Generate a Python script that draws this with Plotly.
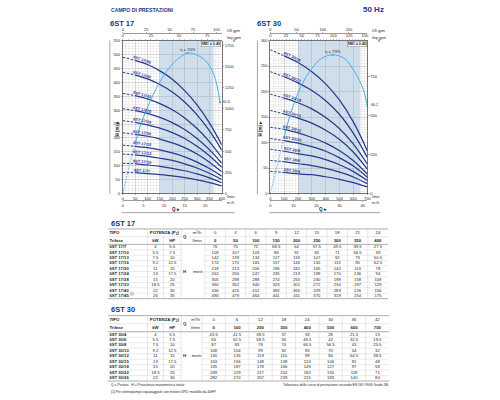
import math
import numpy as np
import plotly.graph_objects as go

# ---------------- data ----------------
Q17_M3H = [0, 3, 6, 9, 12, 15, 18, 21, 24]
Q17_LMIN = [0, 50, 100, 150, 200, 250, 300, 350, 400]
MODELS17 = ["6ST 17/7", "6ST 17/10", "6ST 17/13", "6ST 17/16", "6ST 17/20",
            "6ST 17/24", "6ST 17/28", "6ST 17/33", "6ST 17/40", "6ST 17/45"]
KW17 = [4, 5.5, 7.5, 9.2, 11, 13, 15, 18.5, 22, 26]
HP17 = [5.5, 7.5, 10, 12.5, 15, 17.5, 20, 25, 30, 35]
H17_7 = [76, 75, 72, 68.5, 64, 57.5, 49.5, 39.5, 27.5]
H17_10 = [109, 107, 103, 98, 91, 82, 71, 56.5, 39]
H17_13 = [142, 139, 134, 127, 119, 107, 92, 73, 50.5]
H17_16 = [174, 170, 165, 157, 146, 132, 113, 90, 62.5]
H17_20 = [218, 213, 206, 196, 182, 165, 142, 113, 78]
H17_24 = [262, 256, 247, 235, 219, 198, 170, 136, 94]
H17_28 = [305, 298, 288, 274, 255, 230, 198, 158, 109]
H17_33 = [360, 352, 340, 323, 301, 272, 234, 187, 129]
H17_40 = [436, 426, 412, 392, 365, 329, 283, 226, 156]
H17_45 = [490, 479, 464, 441, 411, 370, 319, 254, 175]
H17 = [H17_7, H17_10, H17_13, H17_16, H17_20, H17_24, H17_28, H17_33, H17_40, H17_45]
NOTES17 = {"6ST 17/45": "(1)"}

Q30_M3H = [0, 6, 12, 18, 24, 30, 36, 42]
Q30_LMIN = [0, 100, 200, 300, 400, 500, 600, 700]
MODELS30 = ["6ST 30/4", "6ST 30/6", "6ST 30/8", "6ST 30/10", "6ST 30/12",
            "6ST 30/15", "6ST 30/18", "6ST 30/22", "6ST 30/26"]
KW30 = [4, 5.5, 7.5, 9.2, 11, 13, 15, 18.5, 22]
HP30 = [5.5, 7.5, 10, 12.5, 15, 17.5, 20, 25, 30]
H30_4 = [43.5, 41.5, 38.5, 37, 33, 28, 21.5, 13]
H30_6 = [65, 62.5, 58.5, 55, 49.5, 42, 32.5, 19.5]
H30_8 = [87, 83, 78, 74, 66.5, 56.5, 43, 25.5]
H30_10 = [108, 104, 99, 92, 83, 70, 54, 32]
H30_12 = [130, 126, 119, 110, 99, 84, 64.5, 38.5]
H30_15 = [163, 156, 148, 138, 124, 106, 81, 48]
H30_18 = [195, 187, 178, 166, 149, 127, 97, 58]
H30_22 = [239, 229, 217, 202, 182, 155, 118, 71]
H30_26 = [282, 270, 257, 239, 215, 183, 140, 84]
H30 = [H30_4, H30_6, H30_8, H30_10, H30_12, H30_15, H30_18, H30_22, H30_26]

# efficiency curves (drawn on the head scale)
ETA17_Q = [0, 25, 50, 75, 107, 148, 188, 228, 262, 295, 336, 369, 393]
ETA17_H = [0, 95, 180, 255, 325, 398, 452, 488, 505, 500, 476, 425, 328]
ETA30_Q = [0, 40, 100, 150, 225, 300, 370, 450, 535, 610, 670, 700]
ETA30_H = [0, 45, 110, 160, 212, 245, 265, 272, 265, 238, 205, 173]

# ---------------- style ----------------
FONT = "Liberation Sans Narrow, Liberation Sans, Arial, sans-serif"
NAVY = "#22358c"
CURVE = "#283a8c"
ETA_C = "#45aee6"
BAND_C = "#cde1f3"
AX = "#3a3a3a"
GMAJ = "#b0b0b0"
GMIN = "#d8d8d8"
TXT = "#262626"
W, HT = 500, 400


def fx(x):
    return x / W


def fy(y):
    return 1 - y / HT


def fmt(v):
    return "%g" % v


def lk(a):
    return ("xaxis" if a[0] == "x" else "yaxis") + a[1:]


TF = dict(size=4, color=TXT, family=FONT)
fig = go.Figure()
shapes, annots = [], []
layout = dict(width=W, height=HT, margin=dict(l=0, r=0, t=0, b=0),
              paper_bgcolor="white", plot_bgcolor="white", showlegend=False,
              font=dict(family=FONT, size=4, color=TXT))

CHARTS = [
    dict(ax=("x", "y"), ft="y2", us="x2", imp="x3", m3="x4", L=123, R=223,
         xmax=400, ymax=550, xd=50, xminor=12.5, yd=50, yminor=10, ftd=250,
         usd=25, usminor=5, impd=25, impminor=5, m3d=5, m3minor=1, dash_q=50,
         band=(150, 367), models=MODELS17, H=H17, Q=Q17_LMIN, eta_q=ETA17_Q,
         eta_h=ETA17_H, eta_txt="η = 70%", eta_end="61.6", label_q=78,
         title="6ST 17", vline=110),
    dict(ax=("x5", "y3"), ft="y4", us="x6", imp="x7", m3="x8", L=272, R=370,
         xmax=700, ymax=300, xd=100, xminor=20, yd=50, yminor=5, ftd=250,
         usd=50, usminor=10, impd=25, impminor=5, m3d=10, m3minor=2, dash_q=100,
         band=(200, 650), models=MODELS30, H=H30, Q=Q30_LMIN, eta_q=ETA30_Q,
         eta_h=ETA30_H, eta_txt="η = 73%", eta_end="66.2", label_q=158,
         title="6ST 30", vline=259),
]

T, B = 38, 193
for c in CHARTS:
    L, R = c["L"], c["R"]
    xa, ya = c["ax"]
    ppx = (R - L) / c["xmax"]
    ppy = (B - T) / c["ymax"]
    common = dict(zeroline=False, fixedrange=True, tickfont=TF)
    layout[lk(xa)] = dict(domain=[fx(L), fx(R)], range=[0, c["xmax"]], anchor=ya,
                          tick0=0, dtick=c["xd"], showgrid=True, gridcolor=GMAJ,
                          gridwidth=0.5,
                          minor=dict(tick0=0, dtick=c["xminor"], showgrid=True,
                                     gridcolor=GMIN, gridwidth=0.35),
                          showline=True, linecolor=AX, linewidth=0.7, mirror=True,
                          ticks="outside", ticklen=1.2, tickwidth=0.4, tickcolor=AX,
                          **common)
    layout[lk(ya)] = dict(domain=[fy(B), fy(T)], range=[0, c["ymax"]], anchor=xa,
                          tick0=0, dtick=c["yd"], showgrid=True, gridcolor=GMAJ,
                          gridwidth=0.5,
                          minor=dict(tick0=0, dtick=c["yminor"], showgrid=True,
                                     gridcolor=GMIN, gridwidth=0.35),
                          showline=True, linecolor=AX, linewidth=0.7, mirror=True,
                          ticks="outside", ticklen=1.2, tickwidth=0.4, tickcolor=AX,
                          **common)
    layout[lk(c["ft"])] = dict(overlaying=ya, side="right", anchor=xa,
                               range=[0, c["ymax"] * 3.28084], tick0=0, dtick=c["ftd"],
                               showgrid=False, ticks="outside", ticklen=1.2,
                               tickwidth=0.4, tickcolor=AX, **common)
    layout[lk(c["us"])] = dict(overlaying=xa, anchor="free", position=fy(30.6), side="top",
                               range=[0, c["xmax"] / 3.78541], tick0=0, dtick=c["usd"],
                               showgrid=False, showline=True, linecolor=AX, linewidth=0.5,
                               ticks="outside", ticklen=1.0, tickwidth=0.4, tickcolor=AX,
                               minor=dict(tick0=0, dtick=c["usminor"], ticks="outside",
                                          ticklen=0.7, tickwidth=0.3, tickcolor=AX,
                                          showgrid=False),
                               **common)
    layout[lk(c["imp"])] = dict(overlaying=xa, anchor=ya, side="top",
                                range=[0, c["xmax"] / 4.54609], tick0=0, dtick=c["impd"],
                                showgrid=False, showline=False,
                                ticks="outside", ticklen=1.0, tickwidth=0.4, tickcolor=AX,
                                minor=dict(tick0=0, dtick=c["impminor"], ticks="outside",
                                           ticklen=0.7, tickwidth=0.3, tickcolor=AX,
                                           showgrid=False),
                                **common)
    layout[lk(c["m3"])] = dict(overlaying=xa, anchor="free", position=fy(199.5),
                               side="bottom", range=[0, c["xmax"] * 0.06], tick0=0,
                               dtick=c["m3d"], showgrid=False, showline=True,
                               linecolor=AX, linewidth=0.5, ticks="outside", ticklen=1.2,
                               tickwidth=0.4, tickcolor=AX,
                               minor=dict(tick0=0, dtick=c["m3minor"], ticks="outside",
                                          ticklen=0.8, tickwidth=0.3, tickcolor=AX,
                                          showgrid=False),
                               **common)
    # helper traces so that every overlaying axis is drawn
    for ax2, ay2 in [(c["us"], ya), (c["imp"], ya), (c["m3"], ya), (xa, c["ft"])]:
        fig.add_trace(go.Scatter(x=[None], y=[None], xaxis=ax2, yaxis=ay2,
                                 mode="lines", hoverinfo="skip"))

    # recommended range band
    shapes.append(dict(type="rect", xref=xa, yref=ya, x0=c["band"][0], x1=c["band"][1],
                       y0=0, y1=c["ymax"], fillcolor=BAND_C, line=dict(width=0),
                       layer="below"))

    # pump curves
    q = np.array(c["Q"], float)
    for name, h in zip(c["models"], c["H"]):
        h = np.array(h, float)
        m1 = q <= c["dash_q"]
        m2 = q >= c["dash_q"]
        fig.add_trace(go.Scatter(x=q[m1], y=h[m1], xaxis=xa, yaxis=ya, mode="lines",
                                 line=dict(color=CURVE, width=1.0, dash="2.5px,1.5px"),
                                 hoverinfo="skip"))
        fig.add_trace(go.Scatter(x=q[m2], y=h[m2], xaxis=xa, yaxis=ya, mode="lines",
                                 line=dict(color=CURVE, width=1.25, shape="spline",
                                           smoothing=1.0),
                                 hoverinfo="skip"))
        qc = c["label_q"]
        hc = np.interp(qc, q, h)
        dh = (np.interp(qc + 20, q, h) - np.interp(qc - 20, q, h)) / 40.0
        ang = math.degrees(math.atan(-dh * ppy / ppx))
        annots.append(dict(x=qc, y=hc + 3.2 / ppy, xref=xa, yref=ya,
                           text="<b>%s</b>" % name, textangle=ang, showarrow=False,
                           font=dict(size=4, color=NAVY, family=FONT),
                           xanchor="center", yanchor="middle"))

    # efficiency curve
    eq = np.array(c["eta_q"], float)
    eh = np.array(c["eta_h"], float)
    m1 = eq <= c["dash_q"]
    m2 = eq >= c["dash_q"]
    fig.add_trace(go.Scatter(x=eq[m1], y=eh[m1], xaxis=xa, yaxis=ya, mode="lines",
                             line=dict(color=ETA_C, width=0.9, dash="1.5px,1.2px",
                                       shape="spline"),
                             hoverinfo="skip"))
    fig.add_trace(go.Scatter(x=eq[m2], y=eh[m2], xaxis=xa, yaxis=ya, mode="lines",
                             line=dict(color=ETA_C, width=1.0, shape="spline",
                                       smoothing=1.0),
                             hoverinfo="skip"))
    ip = int(np.argmax(eh))
    fig.add_trace(go.Scatter(x=[eq[ip], eq[-1]], y=[eh[ip], eh[-1]], xaxis=xa, yaxis=ya,
                             mode="markers", marker=dict(size=2.2, color=ETA_C),
                             hoverinfo="skip"))
    annots.append(dict(x=eq[ip], y=eh[ip], xref=xa, yref=ya, text=c["eta_txt"],
                       showarrow=False, yshift=3.5, font=dict(size=4.2, color=TXT, family=FONT)))
    annots.append(dict(x=eq[-1], y=eh[-1], xref=xa, yref=ya, text=c["eta_end"],
                       showarrow=False, xanchor="left", xshift=1.2,
                       font=dict(size=3.6, color=TXT, family=FONT)))

    # MEI box
    annots.append(dict(x=fx(R - 0.8), y=fy(T + 0.8), xref="paper", yref="paper",
                       text="<b>MEI ≥ 0.40</b>", showarrow=False, xanchor="right",
                       yanchor="top", bgcolor="white", bordercolor="#555",
                       borderwidth=0.4, borderpad=0.5,
                       font=dict(size=3.8, color=TXT, family=FONT)))
    # unit labels
    for txt, xx, yy, anc in [("US gpm", R + 3, 28.2, "left"), ("Imp gpm", R + 3, 35.0, "left"),
                             ("ft", R + 12, 38.5, "center"), ("l/min", R + 3, 196.3, "left"),
                             ("m³/h", R + 3, 202.3, "left")]:
        annots.append(dict(x=fx(xx), y=fy(yy), xref="paper", yref="paper", text=txt,
                           showarrow=False, xanchor=anc, yanchor="middle",
                           font=dict(size=3.6, color=TXT, family=FONT)))
    # axis titles
    annots.append(dict(x=fx(c["vline"] + 3.5), y=fy(117), xref="paper", yref="paper",
                       text="<b>H (m) ▸</b>", textangle=-90, showarrow=False,
                       font=dict(size=4.5, color=TXT, family=FONT)))
    annots.append(dict(x=fx((L + R) / 2 + 4), y=fy(209), xref="paper", yref="paper",
                       text="<b>Q ▸</b>", showarrow=False,
                       font=dict(size=4.5, color=TXT, family=FONT)))
    shapes.append(dict(type="line", xref="paper", yref="paper", x0=fx(c["vline"]),
                       x1=fx(c["vline"]), y0=fy(193.5), y1=fy(38),
                       line=dict(color="#666", width=0.6)))
    shapes.append(dict(type="line", xref="paper", yref="paper", x0=fx(L - 1),
                       x1=fx(R + 13), y0=fy(212.3), y1=fy(212.3),
                       line=dict(color="#666", width=0.6)))
    # chart titles
    annots.append(dict(x=fx(c["vline"] - 1), y=fy(20.8), xref="paper", yref="paper",
                       text="<b>%s</b>" % c["title"], showarrow=False, xanchor="left",
                       yanchor="middle", borderpad=0,
                       font=dict(size=7.5, color=NAVY, family=FONT)))

# page titles
annots.append(dict(x=fx(109), y=fy(7), xref="paper", yref="paper",
                   text="<b>CAMPO DI PRESTAZIONI</b>", showarrow=False, xanchor="left",
                   yanchor="middle", font=dict(size=5.2, color=NAVY, family=FONT)))
annots.append(dict(x=fx(389), y=fy(6.5), xref="paper", yref="paper",
                   text="<b>50 Hz</b>", showarrow=False, xanchor="right",
                   yanchor="middle", font=dict(size=8, color=NAVY, family=FONT)))

# ---------------- tables ----------------
layout["xaxis9"] = dict(domain=[0, 1], range=[0, W], anchor="y5", visible=False,
                        fixedrange=True)
layout["yaxis5"] = dict(domain=[0, fy(220)], range=[HT, 220], anchor="x9",
                        visible=False, fixedrange=True)

TABLES = [
    dict(title="6ST 17", models=MODELS17, kw=KW17, hp=HP17, qm3=Q17_M3H, ql=Q17_LMIN,
         H=H17, notes=NOTES17, top=228.8, title_y=223.2, dx0=206, dx1=391,
         dtop=244.4, rh=5.5),
    dict(title="6ST 30", models=MODELS30, kw=KW30, hp=HP30, qm3=Q30_M3H, ql=Q30_LMIN,
         H=H30, notes={}, top=316.6, title_y=310.2, dx0=203, dx1=392,
         dtop=332.9, rh=5.55),
]
X0, XKW, XHP, XQ, XU = 108, 148, 164, 182, 190
LC_D = "#777"
LC_L = "#c4c4c4"


def hline(y, xa0, xa1, col, w):
    shapes.append(dict(type="line", xref="x9", yref="y5", x0=xa0, x1=xa1, y0=y, y1=y,
                       line=dict(color=col, width=w)))


def vline(x, y0, y1, col, w):
    shapes.append(dict(type="line", xref="x9", yref="y5", x0=x, x1=x, y0=y0, y1=y1,
                       line=dict(color=col, width=w)))


for t in TABLES:
    top, dtop, rh = t["top"], t["dtop"], t["rh"]
    hh = (dtop - top) / 2.0
    n = len(t["models"])
    bot = dtop + n * rh
    nc = len(t["qm3"])
    cw = (t["dx1"] - t["dx0"]) / nc
    ccx = [t["dx0"] + cw * (i + 0.5) for i in range(nc)]
    rcy = [dtop + rh * (i + 0.5) for i in range(n)]
    h1, h2 = top + hh / 2, top + hh * 1.5

    annots.append(dict(x=X0 + 1, y=t["title_y"], xref="x9", yref="y5",
                       text="<b>%s</b>" % t["title"], showarrow=False, xanchor="left",
                       yanchor="middle", font=dict(size=7.5, color=NAVY, family=FONT)))
    # lines
    hline(top, X0, t["dx1"], LC_D, 0.6)
    hline(top + hh, X0, XQ, LC_L, 0.4)
    hline(top + hh, XU, t["dx1"], LC_L, 0.4)
    hline(dtop, X0, t["dx1"], LC_D, 0.6)
    for k in range(1, n):
        hline(dtop + k * rh, X0, XQ, LC_L, 0.35)
        hline(dtop + k * rh, t["dx0"], t["dx1"], LC_L, 0.35)
    hline(bot, X0, t["dx1"], LC_D, 0.6)
    vline(XKW, top, bot, LC_L, 0.4)
    vline(XHP, top + hh, bot, LC_L, 0.4)
    vline(XQ, top, bot, LC_L, 0.4)
    for i in range(nc):
        vline(t["dx0"] + i * cw, top, bot, LC_L, 0.4)

    # header texts
    head = [("<b>TIPO</b>", X0 + 1.5, h1, "middle right"),
            ("<b>Trifase</b>", X0 + 1.5, h2, "middle right"),
            ("<b>POTENZA (P<sub>2</sub>)</b>", (XKW + XQ) / 2, h1, "middle center"),
            ("<b>kW</b>", (XKW + XHP) / 2, h2, "middle center"),
            ("<b>HP</b>", (XHP + XQ) / 2, h2, "middle center"),
            ("<b>Q</b>", (XQ + XU) / 2 - 0.5, (h1 + h2) / 2, "middle center"),
            ("m³/h", (XU + t["dx0"]) / 2, h1, "middle center"),
            ("l/min", (XU + t["dx0"]) / 2, h2, "middle center"),
            ("<b>H</b>", (XQ + XU) / 2 - 0.5, (dtop + bot) / 2, "middle center"),
            ("metri", (XU + t["dx0"]) / 2 + 1, (dtop + bot) / 2, "middle center")]
    fig.add_trace(go.Scatter(x=[h[1] for h in head], y=[h[2] for h in head],
                             text=[h[0] for h in head],
                             textposition=[h[3] for h in head], mode="text",
                             xaxis="x9", yaxis="y5", cliponaxis=False, hoverinfo="skip",
                             textfont=dict(size=4.3, color=TXT, family=FONT)))
    # flow headers
    fig.add_trace(go.Scatter(x=ccx, y=[h1] * nc, text=[fmt(v) for v in t["qm3"]],
                             mode="text", xaxis="x9", yaxis="y5", cliponaxis=False,
                             hoverinfo="skip", textfont=dict(size=4.3, color=TXT, family=FONT)))
    fig.add_trace(go.Scatter(x=ccx, y=[h2] * nc,
                             text=["<b>%s</b>" % fmt(v) for v in t["ql"]],
                             mode="text", xaxis="x9", yaxis="y5", cliponaxis=False,
                             hoverinfo="skip", textfont=dict(size=4.3, color=TXT, family=FONT)))
    # model rows
    names = ["<b>%s</b>" % m + (" <sup>%s</sup>" % t["notes"][m] if m in t["notes"] else "")
             for m in t["models"]]
    fig.add_trace(go.Scatter(x=[X0 + 1.5] * n, y=rcy, text=names, textposition="middle right",
                             mode="text", xaxis="x9", yaxis="y5", cliponaxis=False,
                             hoverinfo="skip", textfont=dict(size=4.2, color=TXT, family=FONT)))
    fig.add_trace(go.Scatter(x=[(XKW + XHP) / 2] * n, y=rcy, text=[fmt(v) for v in t["kw"]],
                             mode="text", xaxis="x9", yaxis="y5", cliponaxis=False,
                             hoverinfo="skip", textfont=dict(size=4.2, color=TXT, family=FONT)))
    fig.add_trace(go.Scatter(x=[(XHP + XQ) / 2] * n, y=rcy, text=[fmt(v) for v in t["hp"]],
                             mode="text", xaxis="x9", yaxis="y5", cliponaxis=False,
                             hoverinfo="skip", textfont=dict(size=4.2, color=TXT, family=FONT)))
    xs, ys, tx = [], [], []
    for r, row in enumerate(t["H"]):
        for ci, v in enumerate(row):
            xs.append(ccx[ci])
            ys.append(rcy[r])
            tx.append(fmt(v))
    fig.add_trace(go.Scatter(x=xs, y=ys, text=tx, mode="text", xaxis="x9", yaxis="y5",
                             cliponaxis=False, hoverinfo="skip",
                             textfont=dict(size=4.2, color=TXT, family=FONT)))

# footnotes
for txt, xx, yy in [("Q = Portata   H = Prevalenza manometrica totale", 109, 386.7),
                    ("(1) Per elettropompe equipaggiate con motore 6PD: modello da 40HP", 109, 394.3),
                    ("Tolleranza delle curve di prestazione secondo EN ISO 9906 Grado 3B.", 283, 386.7)]:
    annots.append(dict(x=xx, y=yy, xref="x9", yref="y5", text=txt, showarrow=False,
                       xanchor="left", yanchor="middle",
                       font=dict(size=3.4, color=TXT, family=FONT)))

layout["shapes"] = shapes
layout["annotations"] = annots
fig.update_layout(**layout)
fig.write_html("out.html", include_plotlyjs=True, full_html=True,
               config={"displayModeBar": False, "staticPlot": True},
               post_script="document.body.style.margin='0px';")
